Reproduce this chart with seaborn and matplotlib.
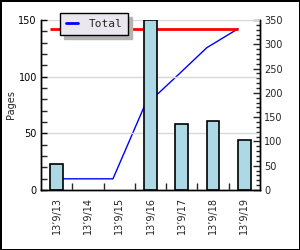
import numpy as np
import pandas as pd
import matplotlib
matplotlib.use("Agg")
import matplotlib.pyplot as plt
import seaborn as sns
from matplotlib.ticker import MultipleLocator, FixedLocator

days = ["13’9/13", "13’9/14", "13’9/15", "13’9/16", "13’9/17", "13’9/18", "13’9/19"]
pages = [23, 0, 0, 150, 58, 61, 44]
total = [23, 23, 23, 172, 232, 293, 332]

sns.set_style("white")
plt.rcParams["font.family"] = ["DejaVu Sans"]

fig = plt.figure(figsize=(3, 2.5), dpi=100, facecolor="white", edgecolor="black", linewidth=0.75)
ax = fig.add_axes([41 / 300, 1 - 190 / 250, 219 / 300, 170 / 250])
ax2 = ax.twinx()
ax.set_zorder(ax2.get_zorder() + 1)
ax.patch.set_visible(False)
ax2.patch.set_facecolor("white")

df = pd.DataFrame({"day": days, "pages": pages})
sns.barplot(data=df, x="day", y="pages", ax=ax, color="#add8e6", width=0.41,
            edgecolor="black", linewidth=1.2, saturation=1)
for p in ax.patches:
    if p.get_height() == 0:
        p.set_linewidth(0)

xpos = np.arange(len(days)) - 0.2
sns.lineplot(x=xpos, y=total, ax=ax2, color="blue", linewidth=1, label="Total", legend=False)
ax2.hlines(max(total), xpos[0], xpos[-1], color="red", linewidth=2)

ax.set_xlim(-0.5, len(days) - 0.5)
ax.set_ylim(0, 150)
ax2.set_ylim(0, 350)

ax.yaxis.set_major_locator(MultipleLocator(50))
ax.yaxis.set_minor_locator(MultipleLocator(10))
ax2.yaxis.set_major_locator(MultipleLocator(50))
ax2.yaxis.set_minor_locator(MultipleLocator(10))
ax.xaxis.set_minor_locator(FixedLocator(np.arange(len(days) - 1) + 0.5))

ax.tick_params(axis="y", which="major", direction="in", length=4, width=1, labelsize=7, pad=3, colors="black")
ax.tick_params(axis="y", which="minor", direction="in", length=4, width=1)
ax2.tick_params(axis="y", which="major", direction="in", length=5, width=1, labelsize=7, pad=3)
ax2.tick_params(axis="y", which="minor", direction="in", length=3, width=1)
ax.tick_params(axis="x", which="major", length=0, labelsize=7, pad=5, rotation=90)
ax.tick_params(axis="x", which="minor", direction="in", length=5, width=1, bottom=True)

ax.grid(True, axis="y", which="major", color="#d8d8d8", linewidth=1)
ax.set_axisbelow(True)

ax.set_xlabel("")
ax.set_ylabel("Pages", fontsize=7, labelpad=2)

for a in (ax, ax2):
    a.spines["top"].set_visible(False)
    for s in ("left", "right", "bottom"):
        a.spines[s].set_color("black")
        a.spines[s].set_linewidth(1)

h, l = ax2.get_legend_handles_labels()
leg = ax.legend(h, l, loc="upper left", bbox_to_anchor=(60 / 300, 1 - 13 / 250),
                bbox_transform=fig.transFigure, borderaxespad=0, frameon=True,
                fancybox=False, shadow={"color": "#b4b4b4", "alpha": 1, "ox": 3, "oy": -3}, framealpha=1,
                facecolor="#eae8ee", edgecolor="black",
                prop={"family": "DejaVu Sans Mono", "size": 8},
                handlelength=1.1, handletextpad=0.9, borderpad=0.55)
leg.get_frame().set_linewidth(1)
for line in leg.get_lines():
    line.set_linewidth(2)

fig.savefig("out.png", dpi=100)
